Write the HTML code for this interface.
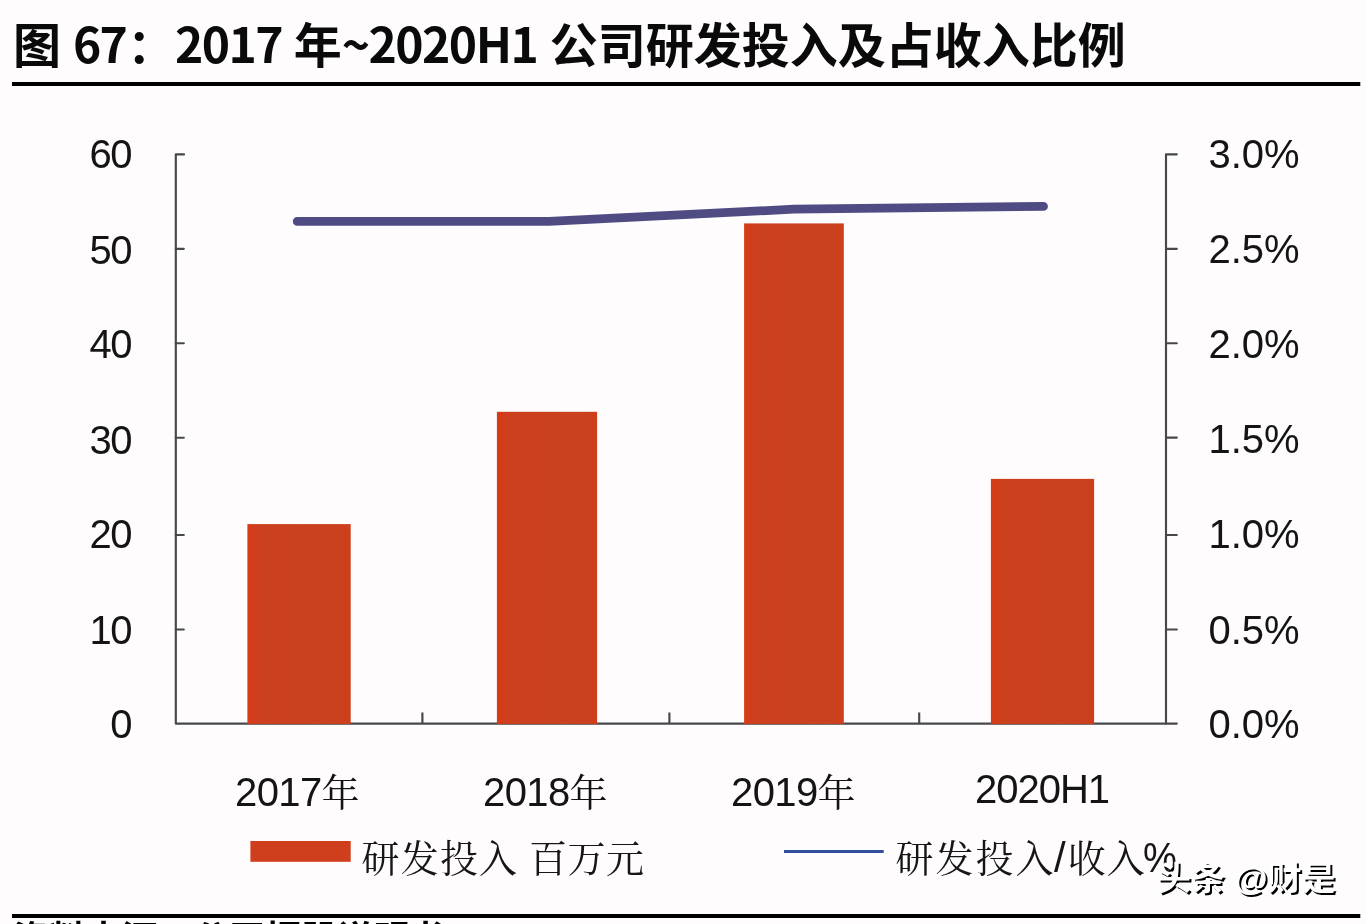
<!DOCTYPE html>
<html lang="zh-CN">
<head>
<meta charset="utf-8">
<title>图 67：2017 年~2020H1 公司研发投入及占收入比例</title>
<style>
html,body{margin:0;padding:0;}
body{width:1366px;height:924px;overflow:hidden;position:relative;background:#fefcfd;color:#111;
  font-family:"Liberation Sans","Noto Sans CJK SC",sans-serif;}
.t{position:absolute;white-space:nowrap;line-height:1;margin:0;padding:0;}
.title{left:13.1px;top:18px;font-size:48px;font-weight:bold;color:#0a0a0a;
  font-family:"Noto Sans CJK SC","Liberation Sans",sans-serif;}
.title .l{letter-spacing:-1.6px;}
.ax{font-size:40px;color:#141414;font-family:"Liberation Sans",sans-serif;}
.yl{text-align:right;width:60px;left:70.7px;letter-spacing:-1.7px;}
.yr{left:1208.5px;}
.xl{font-size:40px;color:#141414;letter-spacing:-0.6px;font-family:"Liberation Sans","Noto Serif CJK SC",serif;}
.xl .c{font-size:38px;letter-spacing:0;font-weight:400;}
.lg{line-height:38px;font-size:38px;color:#161616;font-family:"Liberation Sans","Noto Serif CJK SC",serif;font-weight:400;}
.src{left:13.5px;top:917.6px;font-size:36px;font-weight:bold;color:#000;
  font-family:"Noto Sans CJK SC","Liberation Sans",sans-serif;}
.wm{left:1157px;top:861.5px;font-size:34px;font-weight:700;color:#fff;text-shadow:2px 2px 0 #000;transform:scaleY(0.955);transform-origin:50% 50%;
  font-family:"Liberation Sans","Noto Sans CJK SC",sans-serif;}
svg{position:absolute;left:0;top:0;}
</style>
</head>
<body>
<svg width="1366" height="924" viewBox="0 0 1366 924">
  <!-- rules -->
  <rect x="12" y="82" width="1348.3" height="4" fill="#000"/>
  <rect x="12" y="914" width="1348.3" height="4" fill="#000"/>
  <!-- axes -->
  <g stroke="#46484c" stroke-width="2.15" fill="none" stroke-linecap="round" stroke-linejoin="round">
    <path d="M184 154.4 H175.8 V723.6 H1176.8"/>
    <path d="M1176.8 154.3 H1166 V723.6"/>
    <path d="M175.8 248.8 h8 M175.8 343.2 h8 M175.8 437.7 h8 M175.8 535 h8 M175.8 629.5 h8"/>
    <path d="M1166 248.8 h10.8 M1166 343.2 h10.8 M1166 437.6 h10.8 M1166 535 h10.8 M1166 629.5 h10.8"/>
    <path d="M422.4 723.6 V712.5 M669.4 723.6 V712.5 M919.2 723.6 V712.5" stroke-linecap="butt"/>
  </g>
  <!-- bars -->
  <defs><linearGradient id="bg" x1="0" y1="0" x2="1" y2="0"><stop offset="0" stop-color="#d63b17"/><stop offset="0.14" stop-color="#cb401e"/><stop offset="0.86" stop-color="#c9411f"/><stop offset="1" stop-color="#cf3e1b"/></linearGradient></defs>
  <g fill="url(#bg)">
    <rect x="247.4" y="524.1" width="103.3" height="200"/>
    <rect x="496.9" y="411.8" width="100.2" height="312.3"/>
    <rect x="744.1" y="223.4" width="99.7" height="500.7"/>
    <rect x="990.9" y="478.9" width="103.2" height="245.2"/>
  </g>
  <!-- line series -->
  <polyline points="297.2,221.4 549,221.4 794,209.2 1043.5,206.4" fill="none" stroke="#4f4c84" stroke-width="8.8" stroke-linecap="round" stroke-linejoin="round"/>
  <!-- legend -->
  <rect x="250.4" y="841" width="100.3" height="20.8" fill="#cf3e1d"/>
  <line x1="784" y1="851.5" x2="883.7" y2="851.5" stroke="#30509c" stroke-width="2.8"/>
</svg>

<div class="t title">图<span class="l" style="margin-left:2.9px;letter-spacing:-1.9px"> 67</span><span style="margin-left:1.3px">：</span><span class="l" style="margin-left:-0.2px">2017 </span><span style="margin-left:2.5px">年</span><span class="l" style="margin-left:0px">~</span><span class="l" style="margin-left:0px;letter-spacing:-1.5px">2020H1 </span><span style="margin-left:3px">公司研发投入及占收入比例</span></div>

<div class="t ax yl" style="top:134px">60</div>
<div class="t ax yl" style="top:230px">50</div>
<div class="t ax yl" style="top:324px">40</div>
<div class="t ax yl" style="top:420px">30</div>
<div class="t ax yl" style="top:514px">20</div>
<div class="t ax yl" style="top:609.5px">10</div>
<div class="t ax yl" style="top:704px">0</div>

<div class="t ax yr" style="top:134px">3.0%</div>
<div class="t ax yr" style="top:229px">2.5%</div>
<div class="t ax yr" style="top:324px">2.0%</div>
<div class="t ax yr" style="top:419px">1.5%</div>
<div class="t ax yr" style="top:514px">1.0%</div>
<div class="t ax yr" style="top:609.5px">0.5%</div>
<div class="t ax yr" style="top:704px">0.0%</div>

<div class="t xl" style="left:235px;top:772px">2017<span class="c">年</span></div>
<div class="t xl" style="left:483px;top:772px">2018<span class="c">年</span></div>
<div class="t xl" style="left:731px;top:772px">2019<span class="c">年</span></div>
<div class="t xl" style="left:975px;top:769px;letter-spacing:-1px">2020H1</div>

<div class="t lg" style="left:361.5px;top:840px;letter-spacing:1.2px">研发投入</div>
<div class="t lg" style="left:529px;top:840px;letter-spacing:0.5px">百万元</div>
<div class="t lg" style="left:895.5px;top:839px;letter-spacing:2px">研发投入<span style="letter-spacing:0;margin-left:-1.6px;font-size:42px">/</span><span style="margin-left:2.2px;letter-spacing:1px">收入</span><span style="letter-spacing:0;font-size:42px;margin-left:-2.8px;display:inline-block;transform:scaleX(0.91);transform-origin:0 100%">%</span></div>

<div class="t wm">头条 @财是</div>
<div class="t src">资料来源：公司招股说明书</div>
</body>
</html>
